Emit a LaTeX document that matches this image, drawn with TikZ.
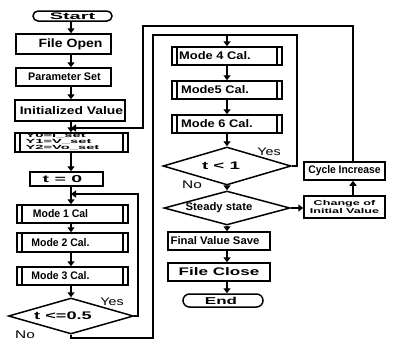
\documentclass[tikz,border=0pt]{standalone}
\usepackage{fontspec}
\usepackage{graphicx}
\setmainfont{Liberation Sans}
\usetikzlibrary{arrows.meta,shapes.geometric,shapes.misc}
\newcommand{\tx}[3]{\hspace*{#1}\scalebox{#2}[1]{#3}\hspace*{-#1}}
\begin{document}
\begin{tikzpicture}[x=1pt,y=-1pt,line width=1.5pt,
  box/.style={draw, rectangle, inner sep=0pt, font=\fontsize{11}{12}\selectfont\bfseries},
  pbox/.style={box, path picture={
     \draw[line width=1.1pt] ([xshift=5pt]path picture bounding box.north west) -- ([xshift=5pt]path picture bounding box.south west)
       ([xshift=-5pt]path picture bounding box.north east) -- ([xshift=-5pt]path picture bounding box.south east);}},
  term/.style={draw, rounded rectangle, inner sep=0pt, font=\fontsize{9.5}{10}\selectfont\bfseries},
  dec/.style={draw, diamond, inner sep=0pt, aspect=3.5, font=\fontsize{11}{12}\selectfont\bfseries},
  flow/.style={-{Triangle[width=7pt,length=5pt]}, line width=1.6pt},
  line/.style={line width=1.6pt},
  lbl/.style={inner sep=0pt, font=\fontsize{11}{12}\selectfont}]
\useasboundingbox (0,0) rectangle (395,341);
\coordinate (L) at (71,0);
\coordinate (R) at (227,0);
\coordinate (cx) at (353,0);
% left column
\node[term, minimum width=79pt, minimum height=10pt] (start) at (72.5,16) {\tx{0pt}{2.1}{Start}};
\node[box, minimum width=95pt, minimum height=20pt, font=\fontsize{12}{13}\selectfont\bfseries] (fopen) at (63.5,44) {\tx{7pt}{1.17}{File Open}};
\node[box, minimum width=95pt, minimum height=18pt] (pset) at (63.5,77) {\tx{1pt}{0.98}{Parameter Set}};
\node[box, minimum width=110pt, minimum height=21pt] (init) at (70,110.5) {\tx{1.5pt}{1.26}{Initialized Value}};
\node[pbox, minimum width=113pt, minimum height=19pt, font=\fontsize{6}{6}\selectfont\bfseries] (ybox) at (71.5,142.5)
  {\tx{-9pt}{2.45}{\renewcommand{\arraystretch}{1}\begin{tabular}{@{}l@{}}Y0=I\_set\\Y1=V\_set\\Y2=Vo\_set\end{tabular}}};
\node[box, minimum width=73pt, minimum height=14pt, font=\fontsize{10}{11}\selectfont\bfseries] (tc) at (66.5,179) {\tx{-4pt}{1.95}{t = 0}};
\node[pbox, minimum width=111pt, minimum height=18pt] (m1) at (72.5,214) {\tx{-12pt}{0.95}{Mode 1 Cal}};
\node[pbox, minimum width=111pt, minimum height=19pt] (m2) at (72.5,242.5) {\tx{-12pt}{0.95}{Mode 2 Cal.}};
\node[pbox, minimum width=111pt, minimum height=18pt] (m3) at (72.5,276) {\tx{-12pt}{0.95}{Mode 3 Cal.}};
\node[dec, minimum width=125pt, minimum height=36pt] (d1) at (71,316) {\tx{-8pt}{1.65}{t <=0.5}};
% right column
\node[pbox, minimum width=110pt, minimum height=18pt] (m4) at (227,56) {\tx{-12pt}{1.17}{Mode 4 Cal.}};
\node[pbox, minimum width=110pt, minimum height=18pt] (m5) at (227,90) {\tx{-12pt}{1.17}{Mode5 Cal.}};
\node[pbox, minimum width=110pt, minimum height=18pt] (m6) at (227,124) {\tx{-10pt}{1.17}{Mode 6 Cal.}};
\node[dec, minimum width=128pt, minimum height=38pt] (d2) at (227,166) {\tx{-6pt}{1.7}{t < 1}};
\node[dec, minimum width=126pt, minimum height=34pt] (d3) at (227,208) {\tx{-8pt}{1.03}{Steady state}};
\node[box, minimum width=102pt, minimum height=18pt] (fvs) at (219,241) {\tx{-4pt}{1.03}{Final Value Save}};
\node[box, minimum width=102pt, minimum height=18pt] (fcl) at (219,272) {\tx{0pt}{1.55}{File Close}};
\node[term, minimum width=80pt, minimum height=13pt, font=\fontsize{10}{11}\selectfont\bfseries] (end) at (223,300.5) {\tx{-2pt}{1.7}{End}};
\node[box, minimum width=81pt, minimum height=22pt, font=\fontsize{7}{8}\selectfont\bfseries, align=center] (chg) at (344.5,207) {\scalebox{1.8}[1]{Change of}\\\scalebox{1.8}[1]{Initial Value}};
\node[box, minimum width=81pt, minimum height=18pt] (cyc) at (344.5,171) {\tx{0pt}{0.94}{Cycle Increase}};
% left flow
\draw[flow] (start.south -| L) -- (fopen.north -| L);
\draw[flow] (fopen.south -| L) -- (pset.north -| L);
\draw[flow] (pset.south -| L) -- (init.north -| L);
\draw[flow] (init.south -| L) -- (ybox.north -| L);
\draw[flow] (ybox.south -| L) -- (tc.north -| L);
\draw[flow] (tc.south -| L) -- (m1.north -| L);
\draw[flow] (m1.south -| L) -- (m2.north -| L);
\draw[flow] (m2.south -| L) -- (m3.north -| L);
\draw[flow] (m3.south -| L) -- (d1.north);
% right flow
\coordinate (top4) at (227,35);
\draw[flow] (top4) -- (m4.north -| R);
\draw[flow] (m4.south -| R) -- (m5.north -| R);
\draw[flow] (m5.south -| R) -- (m6.north -| R);
\draw[flow] (m6.south -| R) -- (d2.north);
\draw[flow] (d2.south) -- (d3.north);
\draw[flow] (d3.south) -- (fvs.north -| R);
\draw[flow] (fvs.south -| R) -- (fcl.north -| R);
\draw[flow] (fcl.south -| R) -- (end.north -| R);
\draw[flow] (d3.east) -- (chg.west |- d3.east);
\draw[flow] (chg.north -| cx) -- (cyc.south -| cx);
% loops
\coordinate (yA) at (138,316);
\coordinate (yB) at (138,194);
\draw[flow] (d1.east) -- (yA) -- (yB) -- (yB -| L);
\coordinate (nA) at (71,338);
\coordinate (nB) at (153,338);
\coordinate (nC) at (153,35);
\draw[line] (d1.south) -- (nA) -- (nB) -- (nC) -- (top4);
\coordinate (yC) at (297,166);
\coordinate (yD) at (297,35);
\draw[line] (d2.east) -- (yC) -- (yD) -- (top4);
\coordinate (cA) at (353,26);
\coordinate (cB) at (143,26);
\coordinate (cC) at (143,128);
\draw[flow] (cyc.north -| cx) -- (cA) -- (cB) -- (cC) -- (cC -| L);
% labels
\node[lbl] (yes1) at (112,302) {\scalebox{1.3}[1]{Yes}};
\node[lbl] (no1) at (25,335) {\scalebox{1.4}[1]{No}};
\node[lbl] (yes2) at (269,152) {\scalebox{1.3}[1]{Yes}};
\node[lbl] (no2) at (192,185) {\scalebox{1.4}[1]{No}};
\end{tikzpicture}
\end{document}
